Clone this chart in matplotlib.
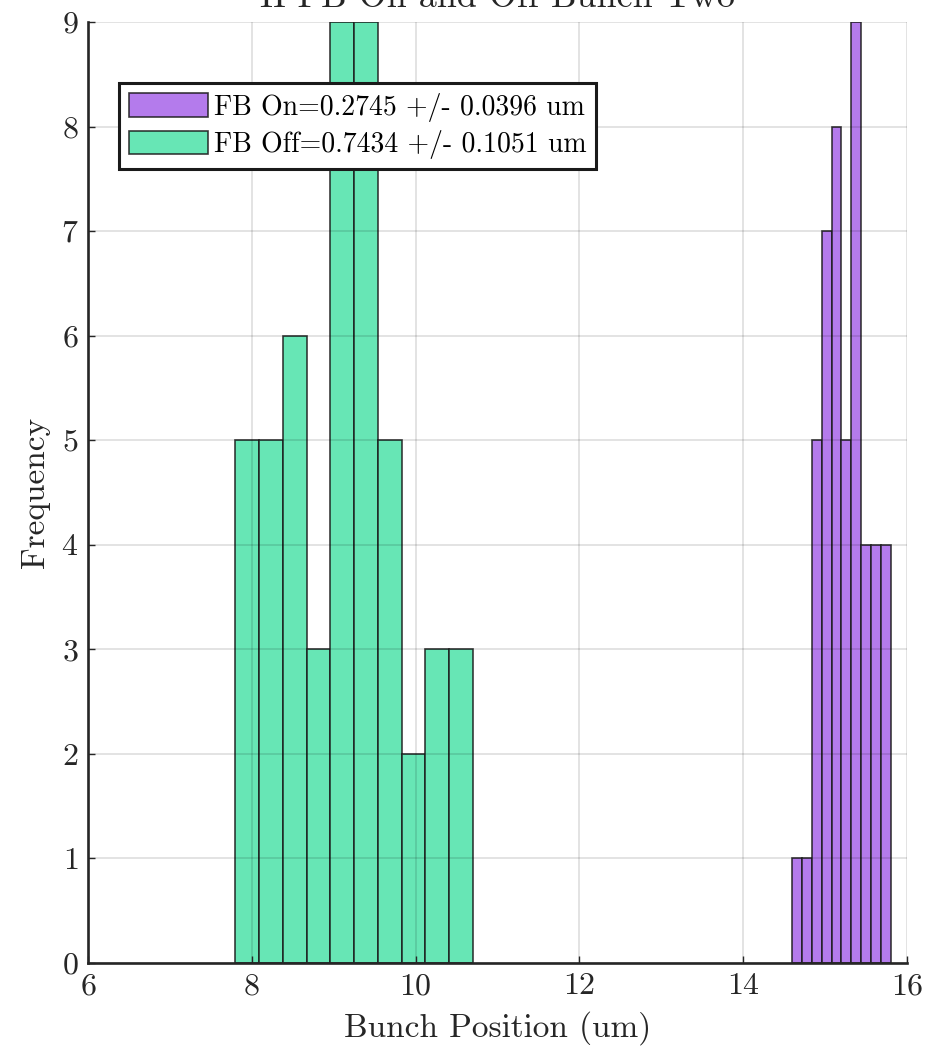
import matplotlib
matplotlib.use("Agg")
import matplotlib.pyplot as plt
import numpy as np

# Histogram bins (edges) and counts for each feedback state
on_edges = [14.60, 14.72, 14.84, 14.96, 15.08, 15.20, 15.32, 15.44, 15.56, 15.68, 15.80]
on_counts = [1, 1, 5, 7, 8, 5, 9, 4, 4, 4]

off_edges = [7.80, 8.09, 8.38, 8.67, 8.96, 9.25, 9.54, 9.83, 10.12, 10.41, 10.70]
off_counts = [5, 5, 6, 3, 9, 9, 5, 2, 3, 3]

on_label = "FB On=0.2745 +/- 0.0396 um"
off_label = "FB Off=0.7434 +/- 0.1051 um"
title_text = "IPFB On and Off Bunch Two"

x_ticks = [6, 8, 10, 12, 14, 16]
y_ticks = list(range(0, 10))

plt.rcParams["font.family"] = ["cmr10", "DejaVu Serif"]
plt.rcParams["axes.formatter.use_mathtext"] = True

fig = plt.figure(figsize=(9.25, 10.47), dpi=100)
ax = fig.add_axes([88 / 925, 1 - 963 / 1047, (907 - 88) / 925, (963 - 22) / 1047])

purple = "#b47bec"
green = "#67e6b5"
edge = (0.1, 0.1, 0.1, 0.85)


def draw_hist(edges, counts, color, label):
    edges = np.asarray(edges)
    ax.bar(edges[:-1], counts, width=np.diff(edges), align="edge",
           color=color, edgecolor=edge, linewidth=1.2, label=label, zorder=2)


draw_hist(on_edges, on_counts, purple, on_label)
draw_hist(off_edges, off_counts, green, off_label)

ax.set_xlim(6, 16)
ax.set_ylim(0, 9)
ax.set_xticks(x_ticks)
ax.set_yticks(y_ticks)
ax.grid(True, color="black", alpha=0.12, linewidth=1.3, zorder=3)
ax.set_axisbelow(False)

for s in ("top", "right"):
    ax.spines[s].set_visible(False)
for s in ("left", "bottom"):
    ax.spines[s].set_linewidth(1.9)
    ax.spines[s].set_color("#262626")
    ax.spines[s].set_zorder(4)

ax.tick_params(direction="in", length=5, width=1.0, color="#262626",
               labelsize=23, labelcolor="#262626", pad=7)

ax.set_xlabel("Bunch Position (um)", fontsize=24, color="#262626", labelpad=8)
ax.set_ylabel("Frequency", fontsize=24, color="#262626", labelpad=8)
ax.set_title(title_text, fontsize=26, color="#262626", pad=11)

leg = ax.legend(loc="upper left", bbox_to_anchor=((119 - 88) / 819, 1 - (83 - 22) / 941),
                fontsize=20, frameon=True, fancybox=False, framealpha=1,
                edgecolor="#1a1a1a", handlelength=2.85, handleheight=0.95,
                handletextpad=0.22, borderpad=0.35, labelspacing=0.3,
                borderaxespad=0)
leg.get_frame().set_linewidth(2.2)
leg.set_zorder(5)

fig.savefig("out.png", dpi=100)
